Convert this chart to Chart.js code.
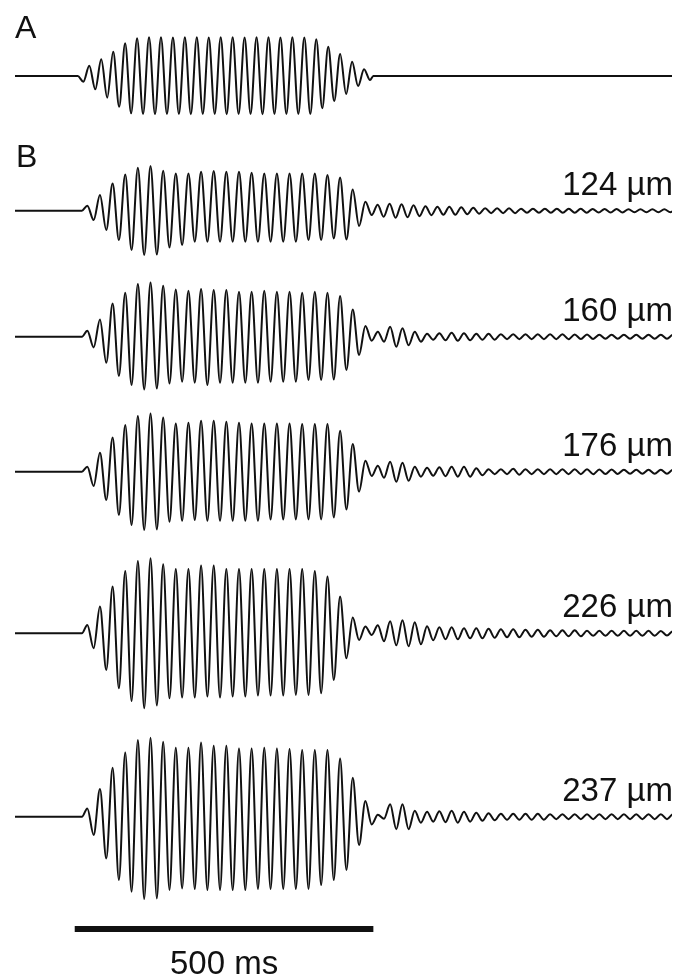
<!DOCTYPE html>
<html>
<head>
<meta charset="utf-8">
<title>Vibration responses</title>
<script src="https://cdn.jsdelivr.net/npm/chart.js@4.4.1/dist/chart.umd.min.js"></script>
<style>
  html, body { margin: 0; padding: 0; background: #ffffff; }
  #wrap { position: relative; width: 678px; height: 975px; }
  canvas { display: block; }
</style>
</head>
<body>
<div id="wrap"><canvas id="traces" width="678" height="975"></canvas></div>
<script>
// ---- Data (deflections; up is positive) ----
const timeRangeMs = [-100, 1000];

// Panel A: stimulus waveform, successive extrema starting with a trough
const stimulusA = [
  -5.7, 10.3, -13.3, 16.7, -21.7, 24.3, -30.7, 32.7, -37.3, 37.7,
  -38, 38.7, -38.3, 38.7, -38, 38.5, -38, 38.7, -38.3, 38.7,
  -38, 38.5, -38, 38.7, -38.3, 38.7, -38, 38.5, -38, 38.7,
  -38.3, 38.7, -38, 38.5, -38, 38.7, -38, 38.5, -38, 36.7,
  -32.3, 29.3, -25, 22, -18, 14.3, -10, 6.7, -4
];
// onset, first extremum, half period, offset (ms)
const stimulusTimingA = [5, 14.4, 10, 500];

// Panel B: responses, successive extrema starting with a peak
const response124 = [
  5, -9.3, 15.7, -19.3, 27.3, -29.3, 36.3, -39.3, 43, -44.3,
  44.7, -43.7, 40, -36.7, 37.3, -34.3, 37.3, -31, 39, -31,
  39.7, -31, 39, -31, 39, -31, 38, -31, 37.3, -31,
  37.3, -31, 37.3, -31, 37.3, -29.3, 37.3, -29.3, 35.7, -27.7,
  33.3, -28.7, 21.3, -15.3, 9, -4.3
];
const response160 = [
  6, -10.7, 17.3, -26, 33.3, -39.3, 44, -48.3, 52.7, -52.7,
  54.3, -51.7, 51, -46.7, 47.3, -45, 46, -46, 47.7, -48.3,
  46.7, -46, 46.7, -46, 45, -46, 45, -46, 46, -45,
  45, -45, 45, -45, 44, -43.3, 45, -43.3, 44, -42.7,
  40.7, -33.3, 27.3, -18.3, 10.7, -4
];
const response176 = [
  5, -14.3, 19, -28.3, 34.3, -43.3, 46.7, -53.3, 55.7, -58.3,
  58.3, -57.7, 54.3, -50, 48.3, -49, 49, -48.3, 51, -49,
  51, -49, 50, -49, 49, -49, 48.3, -49, 48.3, -47.7,
  48.3, -47.7, 48.3, -47.7, 47.7, -47.7, 47.7, -47.7, 47.7, -45.7,
  41, -37.7, 27.7, -20, 11, -4.3
];
const response226 = [
  8.3, -15, 26.7, -36.7, 46.7, -55, 62.3, -67.7, 72.3, -75,
  75, -72.3, 69, -65, 64.3, -64.3, 64.3, -64.3, 67.7, -63.3,
  67.7, -64.3, 64.3, -63.3, 64.3, -63.3, 64.3, -62.3, 64.3, -62.3,
  64.3, -62.3, 64.3, -61.7, 64.3, -61.7, 62.3, -60, 56.7, -46.7,
  36.7, -25, 15.7, -6.7, 6.7, -1.7
];
const response237 = [
  8.3, -18.3, 27.7, -41.7, 49, -63.3, 64.3, -75, 76.7, -82.3,
  79, -81.7, 75, -73.3, 69, -71.7, 69, -72.3, 74.3, -73.3,
  71, -73.3, 71, -73.3, 68.3, -73.3, 68.3, -72.3, 69, -72.3,
  68.3, -72.3, 67.7, -72.3, 66.7, -72.3, 66.7, -68.3, 66.7, -63.3,
  58.3, -53.3, 39, -28.3, 15.7, -7.7
];
// onset, first extremum, half period (ms)
const responseTimingB = [12, 21.1, 10.58];

// After-ringing: amplitude of each cycle following the stimulus
const ringing124 = [6, 7, 6.5, 5.5, 4.5, 4, 4, 3.5, 3, 2.5, 2.5, 2.5, 2, 2, 2, 2, 2, 2, 1.8, 1.8, 1.8, 1.5, 1.5, 1.5, 1.5, 1.5];
const ringing160 = [5, 10, 8.5, 5, 3, 3.5, 4, 3.5, 3, 3, 2.5, 2.5, 2.5, 2.5, 2.5, 2.5, 2.2, 2.2, 2, 2, 2, 2, 2, 2, 2];
const ringing176 = [6, 10, 9, 5, 4, 4.5, 5, 5, 3.5, 2.5, 2.5, 3, 2.5, 2.5, 2.5, 2.5, 2.5, 2.5, 2.2, 2.2, 2, 2, 2, 2, 2];
const ringing226 = [8, 12, 13, 11, 7, 6, 6, 5, 5, 4.5, 4, 4, 3.5, 3.5, 3, 3, 3, 2.5, 2.5, 2.5, 2.5, 2.5, 2.5, 2.2, 2.2];
const ringing237 = [2, 12.5, 12.5, 6, 5, 5.5, 6, 5, 4, 3.5, 3, 3, 3, 3, 2.5, 2.5, 2.5, 2.5, 2.5, 2.5, 2.5, 2.5, 2.5, 2.5, 2.5];
const ringingPeriodsMs = [20, 20.6, 20.6, 20.6, 20.6];

const traceLabels = ['124 µm', '160 µm', '176 µm', '226 µm', '237 µm'];
const panelLabels = ['A', 'B'];
const scaleBarMs = 500;
const scaleBarLabel = '500 ms';

// ---- Layout ----
const baselinesPx = [76, 210.7, 336.7, 471.7, 633.3, 816.7];
const labelLiftPx = 16;
const scaleBarYPx = 929;
const inkColor = '#111111';
const labelFont = '33px "Liberation Sans", Arial, sans-serif';
const panelFont = '32px "Liberation Sans", Arial, sans-serif';

function buildTrace(timing, extrema, ringAmps, ringPeriod, baseline) {
  const [onset, first, half, offset] = timing;
  const pts = [{ x: timeRangeMs[0], y: 0 }, { x: onset, y: 0 }];
  extrema.forEach((v, i) => pts.push({ x: first + i * half, y: v }));
  let t = first + (extrema.length - 1) * half;
  if (ringAmps) {
    ringAmps.forEach(a => {
      t += ringPeriod / 2; pts.push({ x: t, y: a });
      t += ringPeriod / 2; pts.push({ x: t, y: -a });
    });
  } else {
    pts.push({ x: offset, y: 0 });
    pts.push({ x: timeRangeMs[1], y: 0 });
  }
  return pts.map(p => ({ x: p.x, y: p.y - baseline }));
}

const responses = [response124, response160, response176, response226, response237];
const ringings = [ringing124, ringing160, ringing176, ringing226, ringing237];

const datasets = [{
  label: 'stimulus',
  data: buildTrace(stimulusTimingA, stimulusA, null, 0, baselinesPx[0])
}];
responses.forEach((r, i) => {
  datasets.push({
    label: traceLabels[i],
    data: buildTrace(responseTimingB, r, ringings[i], ringingPeriodsMs[i], baselinesPx[i + 1])
  });
});
datasets.forEach(d => Object.assign(d, {
  borderColor: inkColor,
  borderWidth: 2,
  pointRadius: 0,
  fill: false,
  cubicInterpolationMode: 'monotone'
}));

// Panel letters, depth labels and the time scale bar
const annotations = {
  id: 'annotations',
  afterDatasetsDraw(chart) {
    const { ctx, scales: { x, y } } = chart;
    ctx.save();
    ctx.fillStyle = inkColor;
    ctx.textBaseline = 'alphabetic';

    ctx.font = panelFont;
    ctx.textAlign = 'left';
    ctx.fillText(panelLabels[0], 15, 38);
    ctx.fillText(panelLabels[1], 16, 167);

    ctx.font = labelFont;
    ctx.textAlign = 'right';
    traceLabels.forEach((lab, i) => {
      const yb = y.getPixelForValue(-baselinesPx[i + 1]) - labelLiftPx;
      ctx.fillText(lab, 673, yb);
    });

    const x0 = x.getPixelForValue(0);
    const x1 = x.getPixelForValue(scaleBarMs);
    ctx.fillRect(x0, scaleBarYPx - 3, x1 - x0, 6);
    ctx.textAlign = 'center';
    ctx.fillText(scaleBarLabel, (x0 + x1) / 2, 974);
    ctx.restore();
  }
};

new Chart(document.getElementById('traces'), {
  type: 'line',
  data: { datasets },
  options: {
    responsive: false,
    animation: false,
    events: [],
    layout: { padding: { left: 15, right: 6, top: 0, bottom: 0 } },
    scales: {
      x: { type: 'linear', min: timeRangeMs[0], max: timeRangeMs[1], display: false },
      y: { type: 'linear', min: -975, max: 0, display: false }
    },
    plugins: { legend: { display: false }, tooltip: { enabled: false } }
  },
  plugins: [annotations]
});
</script>
</body>
</html>
